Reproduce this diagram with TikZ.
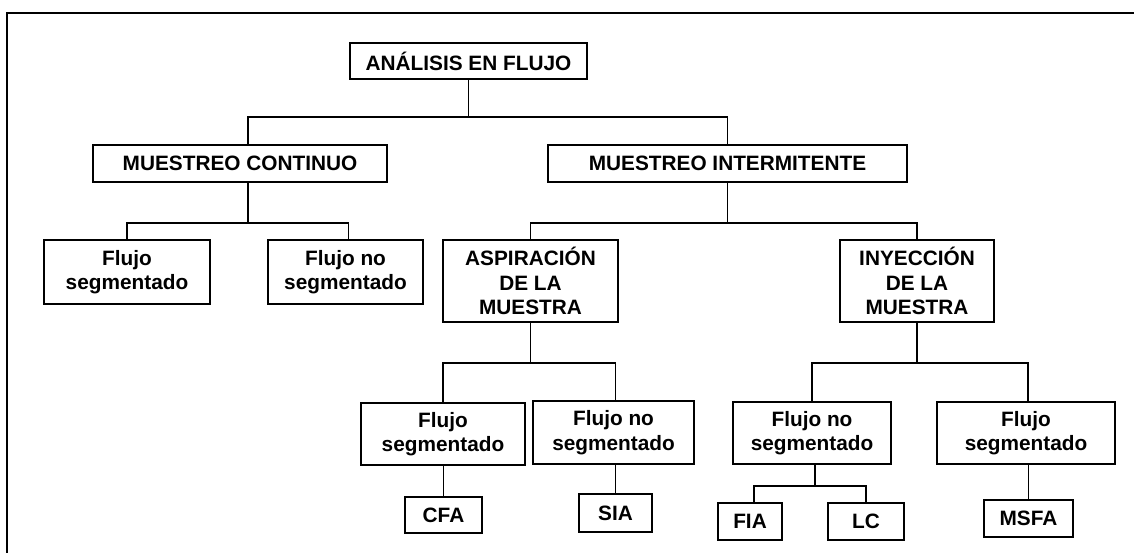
\documentclass[tikz,border=0pt]{standalone}
\usepackage{fontspec}
\setmainfont{Liberation Sans}
\usetikzlibrary{positioning,calc}
\tikzset{
  catbox/.style={
    draw=black,
    fill=white,
    line width=1pt,
    align=center,
    font=\bfseries\fontsize{10.4}{12.2}\selectfont,
    inner sep=2pt
  },
  treeline/.style={draw=black, line width=0.7pt},
  frameline/.style={draw=black, line width=1.1pt}
}

\begin{document}
\begin{tikzpicture}[x=0.5pt,y=-0.5pt]
  \useasboundingbox (0,0) rectangle (1134,552);
  \draw[frameline] (7,600) |- (1200,13);

  \node[catbox,minimum width=118.5pt,minimum height=18pt] (root) at (468.5,61) {ANÁLISIS EN FLUJO};
  \node[catbox,minimum width=147pt,minimum height=18.5pt] (mc) at (240,163.5) {MUESTREO CONTINUO};
  \node[catbox,minimum width=179.5pt,minimum height=18.5pt] (mi) at (727.5,163.5) {MUESTREO INTERMITENTE};
  \draw[treeline] (root.south) -- ++(0,37) coordinate (j0);
  \draw[treeline] ([xshift=4pt]mc.north) |- (j0) -| (mi.north);

  \node[catbox,minimum width=83pt,minimum height=32pt] (fsL) at (127,272) {Flujo\\segmentado};
  \node[catbox,minimum width=77.5pt,minimum height=32pt] (fnsL) at (345.5,272) {Flujo no\\segmentado};
  \node[catbox,minimum width=87.5pt,minimum height=41pt] (asp) at (530.5,281) {ASPIRACIÓN\\DE LA\\MUESTRA};
  \node[catbox,minimum width=77pt,minimum height=41pt] (iny) at (917,281) {INYECCIÓN\\DE LA\\MUESTRA};
  \draw[treeline] ([xshift=4pt]mc.south) -- ++(0,40) coordinate (j1);
  \draw[treeline] (fsL.north) |- (j1) -| ([xshift=1.5pt]fnsL.north);
  \draw[treeline] (mi.south) -- ++(0,40) coordinate (j2);
  \draw[treeline] (asp.north) |- (j2) -| (iny.north);

  \node[catbox,minimum width=82pt,minimum height=31pt] (fsA) at (443,434) {Flujo\\segmentado};
  \node[catbox,minimum width=80.5pt,minimum height=31.5pt] (fnsA) at (613.5,432.5) {Flujo no\\segmentado};
  \node[catbox,minimum width=79pt,minimum height=31pt] (fnsI) at (812,433) {Flujo no\\segmentado};
  \node[catbox,minimum width=89pt,minimum height=31pt] (fsI) at (1026,433) {Flujo\\segmentado};
  \draw[treeline] (asp.south) -- ++(0,40) coordinate (j3);
  \draw[treeline] (fsA.north) |- (j3) -| ([xshift=1pt]fnsA.north);
  \draw[treeline] (iny.south) -- ++(0,40) coordinate (j4);
  \draw[treeline] (fnsI.north) |- (j4) -| ([xshift=1pt]fsI.north);

  \node[catbox,minimum width=38.5pt,minimum height=18pt] (cfa) at (443.5,515) {CFA};
  \node[catbox,minimum width=36.5pt,minimum height=19pt] (sia) at (615.5,513) {SIA};
  \node[catbox,minimum width=32pt,minimum height=18.5pt] (fia) at (750,521.5) {FIA};
  \node[catbox,minimum width=38pt,minimum height=18.5pt] (lc) at (866,521.5) {LC};
  \node[catbox,minimum width=44.5pt,minimum height=18.5pt] (msfa) at (1028.5,518.5) {MSFA};
  \draw[treeline] (cfa.north) -- (cfa.north |- fsA.south);
  \draw[treeline] (sia.north) -- (sia.north |- fnsA.south);
  \draw[treeline] ([xshift=1.5pt]fnsI.south) -- ++(0,21) coordinate (j5);
  \draw[treeline] ([xshift=2pt]fia.north) |- (j5) -| (lc.north);
  \draw[treeline] (msfa.north) -- (msfa.north |- fsI.south);
\end{tikzpicture}
\end{document}
